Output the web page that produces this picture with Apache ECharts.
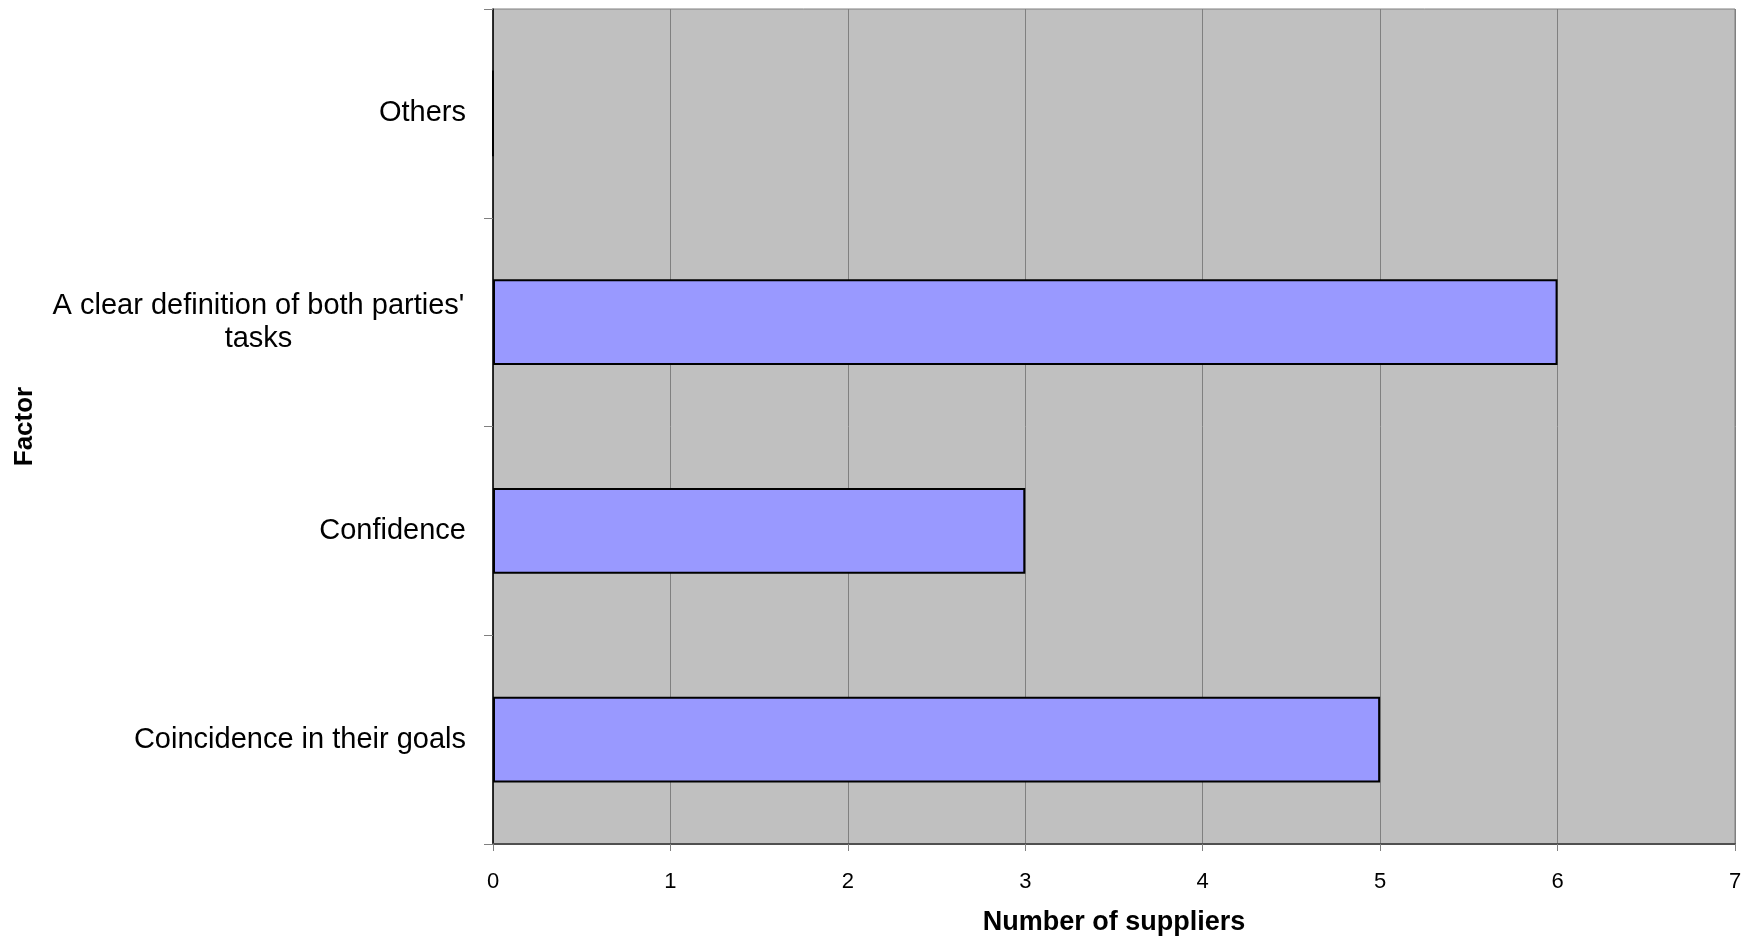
<!DOCTYPE html>
<html>
<head>
<meta charset="utf-8">
<script src="https://cdn.jsdelivr.net/npm/echarts@6/dist/echarts.min.js"></script>
<style>
html,body{margin:0;padding:0;background:#fff;}
#chart{width:1758px;height:941px;}
</style>
</head>
<body>
<div id="chart"></div>
<script>
var categories = ['Coincidence in their goals', 'Confidence', "A clear definition of both parties'\ntasks", 'Others'];
var supplierCounts = [5, 3, 6, 0];
var xTicks = { min: 0, max: 7, interval: 1 };
var xTitle = 'Number of suppliers';
var yTitle = 'Factor';

var FONT = "'Liberation Sans', Arial, sans-serif";
var chart = echarts.init(document.getElementById('chart'));
chart.setOption({
  animation: false,
  backgroundColor: '#ffffff',
  grid: {
    left: 493, right: 23, top: 9, bottom: 97,
    show: true, backgroundColor: '#C0C0C0', borderColor: '#808080', borderWidth: 1
  },
  xAxis: {
    type: 'value',
    min: xTicks.min, max: xTicks.max, interval: xTicks.interval,
    name: xTitle,
    nameLocation: 'middle',
    nameGap: 65,
    nameTextStyle: { fontFamily: FONT, fontSize: 27, fontWeight: 'bold', color: '#000' },
    axisLine: { show: true, lineStyle: { color: '#505050', width: 2 } },
    axisTick: { show: true, length: 7, lineStyle: { color: '#808080', width: 1 } },
    axisLabel: { fontFamily: FONT, fontSize: 22, color: '#000', margin: 27 },
    splitLine: { show: true, lineStyle: { color: '#808080', width: 1 } }
  },
  yAxis: {
    type: 'category',
    data: categories,
    name: yTitle,
    nameLocation: 'middle',
    nameGap: 455,
    nameRotate: 90,
    nameTextStyle: { fontFamily: FONT, fontSize: 26, fontWeight: 'bold', color: '#000' },
    axisLine: { show: true, lineStyle: { color: '#000', width: 1.5 } },
    axisTick: { show: true, length: 9, alignWithLabel: false, lineStyle: { color: '#808080', width: 1 } },
    axisLabel: {
      fontFamily: FONT, fontSize: 29, color: '#000', margin: 27, lineHeight: 33,
      formatter: function (v) {
        return v.indexOf('\n') >= 0 ? '{c|' + v + '}' : v;
      },
      rich: {
        c: { fontFamily: FONT, fontSize: 29, color: '#000', lineHeight: 33, width: 415, align: 'center' }
      }
    },
    splitLine: { show: false }
  },
  series: [{
    type: 'bar',
    data: supplierCounts,
    barWidth: '41%',
    itemStyle: { color: '#9999FF', borderColor: '#000', borderWidth: 2 }
  }]
});
</script>
</body>
</html>
